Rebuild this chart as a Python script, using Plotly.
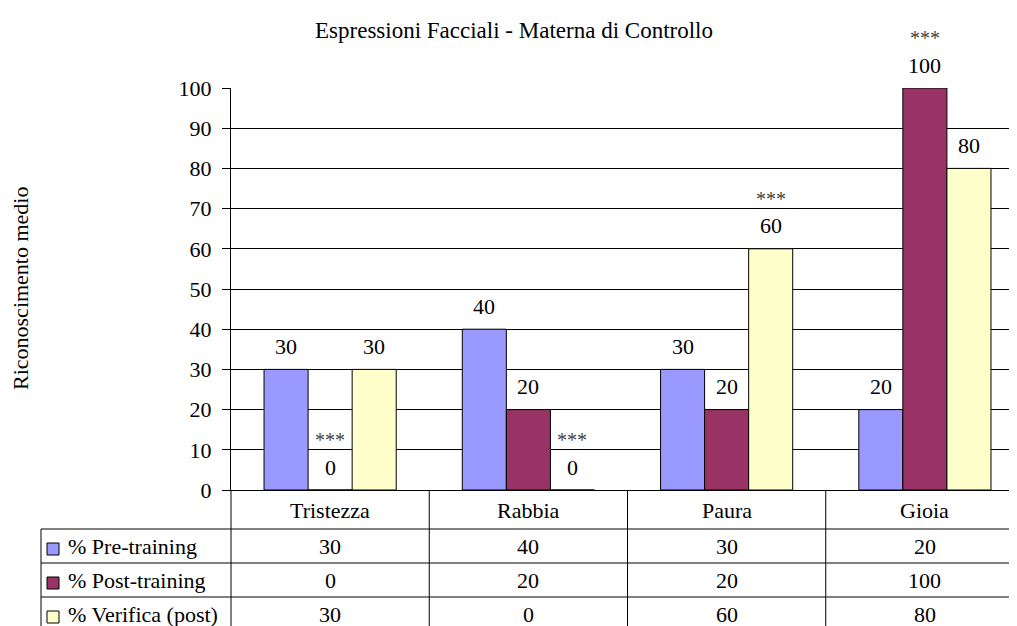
import plotly.graph_objects as go

# ---- data ----
categories = ["Tristezza", "Rabbia", "Paura", "Gioia"]
series_names = ["% Pre-training", "% Post-training", "% Verifica (post)"]
pre_training = [30, 40, 30, 20]
post_training = [0, 20, 20, 100]
verifica_post = [30, 0, 60, 80]
post_marks = ["***", "", "", "***"]
verifica_marks = ["", "***", "***", ""]
pre_marks = ["", "", "", ""]
y_ticks = [0, 10, 20, 30, 40, 50, 60, 70, 80, 90, 100]

title_text = "Espressioni Facciali - Materna di Controllo"
y_title = "Riconoscimento medio"

series_values = [pre_training, post_training, verifica_post]
series_marks = [pre_marks, post_marks, verifica_marks]
colors = ["#9999FF", "#993366", "#FFFFCC"]

FONT = "Liberation Serif, Times New Roman, serif"
OFF = 8  # default page body margin
W, H = 1017 - OFF, 626 - OFF
L, T = 231 - OFF, 88 - OFF
BOTTOM = 490 - OFF
B = H - BOTTOM
plot_h = H - T - B
plot_w = W - L
bargap = 1 / 3
bar_w = (1 - bargap) / 3
x_max = 3.5 - 7 / 198  # right edge of the window cuts the last category


def py(p):
    return (BOTTOM - (p - OFF)) / plot_h


def px(p):
    return ((p - OFF) - L) / plot_w


fig = go.Figure()
for name, vals, col in zip(series_names, series_values, colors):
    fig.add_trace(go.Bar(
        x=categories, y=vals, name=name,
        marker=dict(color=col, line=dict(color="black", width=1)),
        showlegend=False, hoverinfo="x+y",
    ))

annotations = []
shapes = []
txt = dict(family=FONT, size=22, color="black")
# value labels + significance marks
for k, (vals, marks) in enumerate(zip(series_values, series_marks)):
    for i, v in enumerate(vals):
        xpos = i + (k - 1) * bar_w
        annotations.append(dict(x=xpos, y=v, xref="x", yref="y", text=str(v),
                                xanchor="center", yanchor="middle",
                                showarrow=False, yshift=23, font=txt))
        if marks[i]:
            annotations.append(dict(x=xpos, y=v, xref="x", yref="y", text=marks[i],
                                    xanchor="center", yanchor="middle",
                                    showarrow=False, yshift=50,
                                    font=dict(family=FONT, size=20, color="#444444")))

# data table
header_y = 510
row_ys = [546, 580, 614]
row_lines = [529, 563, 597]
for i, c in enumerate(categories):
    annotations.append(dict(x=i, y=py(header_y), xref="x", yref="paper", text=c,
                            xanchor="center", yanchor="middle",
                            showarrow=False, font=txt))
for r, (name, vals, col) in enumerate(zip(series_names, series_values, colors)):
    yc = row_ys[r]
    annotations.append(dict(x=px(66), y=py(yc), xref="paper", yref="paper", text=name,
                            xanchor="left", yanchor="middle", showarrow=False, font=txt))
    shapes.append(dict(type="rect", xref="paper", yref="paper",
                       x0=px(47), x1=px(59), y0=py(yc + 9), y1=py(yc - 3),
                       fillcolor=col, line=dict(color="black", width=1)))
    for i, v in enumerate(vals):
        annotations.append(dict(x=i, y=py(yc), xref="x", yref="paper", text=str(v),
                                xanchor="center", yanchor="middle",
                                showarrow=False, font=txt))

line_style = dict(color="black", width=1)
for yl in row_lines:
    shapes.append(dict(type="line", xref="paper", yref="paper",
                       x0=px(41), x1=1, y0=py(yl), y1=py(yl), line=line_style))
shapes.append(dict(type="line", xref="paper", yref="paper",
                   x0=px(41), x1=px(41), y0=py(row_lines[0]), y1=py(640), line=line_style))
shapes.append(dict(type="line", xref="paper", yref="paper",
                   x0=0, x1=0, y0=0, y1=py(640), line=line_style))
for b in [0.5, 1.5, 2.5]:
    shapes.append(dict(type="line", xref="x", yref="paper",
                       x0=b, x1=b, y0=0, y1=py(640), line=line_style))

annotations.append(dict(x=px(20), y=py(289), xref="paper", yref="paper", text=y_title,
                        xanchor="center", yanchor="middle",
                        textangle=-90, showarrow=False, font=txt))

fig.update_layout(
    width=W, height=H,
    margin=dict(l=L, r=0, t=T, b=B, autoexpand=False),
    paper_bgcolor="white", plot_bgcolor="white",
    barmode="group", bargap=bargap, bargroupgap=0,
    title=dict(text=title_text, x=(514 - OFF) / W, xref="container", xanchor="center",
               y=1 - (30 - OFF) / H, yanchor="middle",
               font=dict(family=FONT, size=23, color="black")),
    xaxis=dict(range=[-0.5, x_max], showticklabels=False, ticks="",
               showgrid=False, showline=True, linecolor="black", linewidth=1,
               zeroline=False, fixedrange=True),
    yaxis=dict(range=[0, 100], tickvals=y_ticks, ticks="outside", ticklen=8,
               tickcolor="black", tickwidth=1, showline=True, linecolor="black",
               linewidth=1, showgrid=True, gridcolor="black", gridwidth=1,
               zeroline=False, ticklabelstandoff=6,
               tickfont=dict(family=FONT, size=22, color="black"), fixedrange=True),
    annotations=annotations, shapes=shapes,
    font=dict(family=FONT, color="black"),
)

fig.write_html("out.html")
